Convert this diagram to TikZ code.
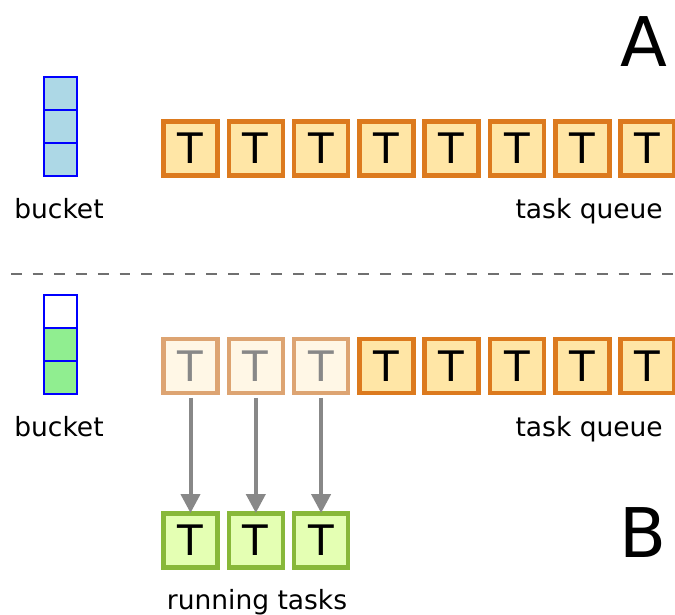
\documentclass[tikz,border=0pt]{standalone}
\usepackage{fontspec}
\setmainfont{DejaVu Sans}
\usetikzlibrary{arrows.meta}

\definecolor{qorange}{HTML}{DC7A1E}
\definecolor{qfill}{HTML}{FFE6A6}
\definecolor{fadeedge}{HTML}{DDA472}
\definecolor{fadefill}{HTML}{FFF7E6}
\definecolor{fadetext}{HTML}{888888}
\definecolor{rgreen}{HTML}{88B83A}
\definecolor{rfill}{HTML}{E4FFB3}
\definecolor{cellblue}{HTML}{ADD8E6}
\definecolor{cellgreen}{HTML}{90EE90}
\definecolor{sepgray}{HTML}{707070}

\begin{document}
\begin{tikzpicture}[x=1pt, y=1pt,
    task/.style={draw=qorange, fill=qfill, line width=4.5pt, minimum size=54pt, inner sep=0pt, font=\fontsize{42}{44}\selectfont},
    faded/.style={task, draw=fadeedge, fill=fadefill, text=fadetext},
    running/.style={task, draw=rgreen, fill=rfill},
    cell/.style={draw=blue, line width=2pt, minimum width=33pt, minimum height=33pt, inner sep=0pt},
    lbl/.style={font=\fontsize{26.5}{30}\selectfont, inner sep=0pt, anchor=base},
    big/.style={font=\fontsize{68.5}{70}\selectfont, inner sep=0pt, anchor=base}]
  \useasboundingbox (0,0) rectangle (675,614);

  % state A
  \foreach \j/\y in {1/520, 2/487, 3/454}{
    \node[cell, fill=cellblue] (ba\j) at (60,\y) {};
  }
  \foreach \i in {1,...,8}{
    \node[task] (qa\i) at ({190.5+(\i-1)*65.3}, 465.5) {T};
  }
  \node[lbl] (bucketA) at (59,395) {bucket};
  \node[lbl, anchor=base east] (queueA) at (663,395) {task queue};
  \node[big] (labelA) at (644,547) {A};

  % separator
  \coordinate (sepL) at (11,340);
  \coordinate (sepR) at (675,340);
  \draw[sepgray, line width=1.3pt, dash pattern=on 10.7pt off 11pt] (sepL) -- (sepR);

  % state B
  \foreach \j/\y/\c in {1/302.5/white, 2/269.5/cellgreen, 3/236.5/cellgreen}{
    \node[cell, fill=\c] (bb\j) at (60,\y) {};
  }
  \foreach \i/\s in {1/faded, 2/faded, 3/faded, 4/task, 5/task, 6/task, 7/task, 8/task}{
    \node[\s] (qb\i) at ({190.5+(\i-1)*65.3}, 248) {T};
  }
  \foreach \i in {1,2,3}{
    \node[running] (run\i) at ({190.5+(\i-1)*65.3}, 73.7) {T};
    \draw[fadetext, line width=4pt, -{Triangle[width=19pt, length=19pt]}, shorten <=2.5pt, shorten >=-2pt] (qb\i.south) -- (run\i.north);
  }
  \node[lbl] (bucketB) at (59,177.5) {bucket};
  \node[lbl, anchor=base east] (queueB) at (663,177.5) {task queue};
  \node[lbl] (runLabel) at (257,5) {running tasks};
  \node[big] (labelB) at (643,57) {B};
\end{tikzpicture}
\end{document}
